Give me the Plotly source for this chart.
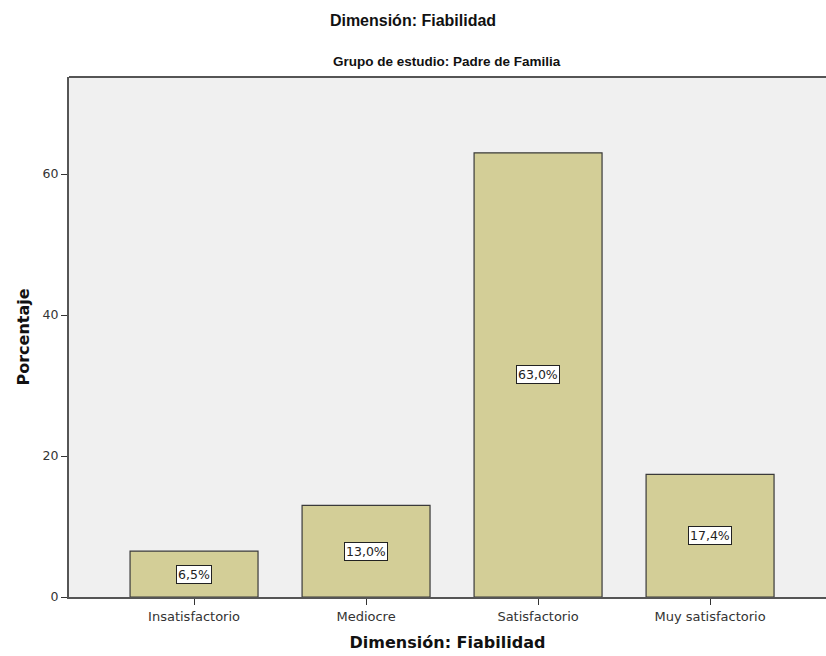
import plotly.graph_objects as go

categories = ["Insatisfactorio", "Mediocre", "Satisfactorio", "Muy satisfactorio"]
values = [6.5, 13.0, 63.0, 17.4]
labels = ["6,5%", "13,0%", "63,0%", "17,4%"]
y_ticks = [0, 20, 40, 60]

TICKFONT = "DejaVu Sans, Verdana, sans-serif"

fig = go.Figure()
fig.add_trace(go.Bar(
    x=list(range(len(categories))), y=values,
    width=0.744,
    marker=dict(color="#D3CE97", line=dict(color="#3a3a3a", width=1.2)),
    hoverinfo="skip",
))

for i, (v, lab) in enumerate(zip(values, labels)):
    fig.add_annotation(
        x=i, y=v / 2, text=lab, showarrow=False,
        font=dict(family=TICKFONT, size=12.5, color="#222"),
        bgcolor="white", bordercolor="#222", borderwidth=1, borderpad=1,
    )

fig.add_shape(type="line", xref="paper", yref="paper", x0=0, x1=1, y0=1, y1=1,
              line=dict(color="#555555", width=2))

fig.update_layout(
    width=826, height=656,
    margin=dict(l=69, r=0, t=77, b=59),
    plot_bgcolor="#F0F0F0", paper_bgcolor="white",
    showlegend=False,
    font=dict(family="Liberation Sans, Arial, sans-serif", color="#333"),
    title=dict(text="<b>Dimensión: Fiabilidad</b>", x=0.5, xanchor="center",
               y=1 - 20 / 656, yanchor="middle",
               font=dict(size=16, color="#111")),
    annotations=list(fig.layout.annotations) + [
        dict(text="<b>Grupo de estudio: Padre de Familia</b>", xref="paper", yref="paper",
             x=(447 - 69) / (826 - 69), y=1 + (77 - 61) / 520, xanchor="center", yanchor="middle",
             showarrow=False,
             font=dict(family="Liberation Sans, Arial, sans-serif",
                       size=13.5, color="#111")),
    ],
    xaxis=dict(
        range=[-0.727, 3.674],
        tickmode="array", tickvals=list(range(len(categories))), ticktext=categories,
        ticks="outside", ticklen=6, tickcolor="#333", tickwidth=1,
        showline=True, linecolor="#555555", linewidth=2,
        showgrid=False, zeroline=False,
        tickfont=dict(family=TICKFONT, size=13, color="#333"),
        title=dict(text="<b>Dimensión: Fiabilidad</b>",
                   font=dict(family=TICKFONT, size=16, color="#111"), standoff=14),
    ),
    yaxis=dict(
        range=[0, 73.76],
        tickmode="array", tickvals=y_ticks,
        ticks="outside", ticklen=6, tickcolor="#333", tickwidth=1,
        showline=True, linecolor="#555555", linewidth=2,
        showgrid=False, zeroline=False,
        tickfont=dict(family=TICKFONT, size=12.5, color="#333"),
        title=dict(text="<b>Porcentaje</b>",
                   font=dict(family=TICKFONT, size=16, color="#111"), standoff=9),
    ),
)

fig.write_html("out.html")
